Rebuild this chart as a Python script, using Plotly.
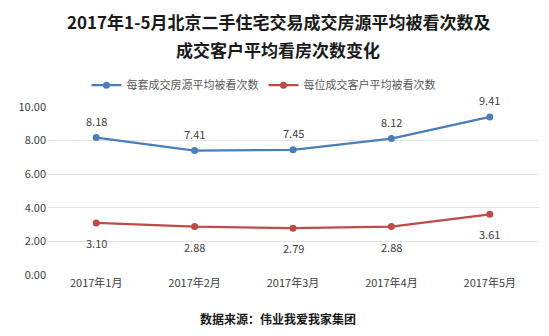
import plotly.graph_objects as go

months = ["2017年1月", "2017年2月", "2017年3月", "2017年4月", "2017年5月"]
listing_views = [8.18, 7.41, 7.45, 8.12, 9.41]
buyer_views = [3.10, 2.88, 2.79, 2.88, 3.61]
y_ticks = [0, 2, 4, 6, 8, 10]

blue = "#4A7EBB"
red = "#BE4B48"
font_family = "Noto Sans CJK SC, Microsoft YaHei, sans-serif"

fig = go.Figure()
fig.add_trace(go.Scatter(
    x=months, y=listing_views, name="每套成交房源平均被看次数",
    mode="lines+markers",
    line=dict(color=blue, width=2.25),
    marker=dict(color=blue, size=7),
    cliponaxis=False,
))
fig.add_trace(go.Scatter(
    x=months, y=buyer_views, name="每位成交客户平均被看次数",
    mode="lines+markers",
    line=dict(color=red, width=2.25),
    marker=dict(color=red, size=7),
    cliponaxis=False,
))

# value labels: above the blue series, below the red series
labels = []
for m, v in zip(months, listing_views):
    labels.append(dict(x=m, y=v, xref="x", yref="y", text=f"{v:.2f}",
                       showarrow=False, yshift=17,
                       font=dict(size=11, color="#404040")))
for m, v in zip(months, buyer_views):
    labels.append(dict(x=m, y=v, xref="x", yref="y", text=f"{v:.2f}",
                       showarrow=False, yshift=-20,
                       font=dict(size=11, color="#404040")))

titles = [
    dict(text="<b>2017年1-5月北京二手住宅交易成交房源平均被看次数及</b>",
         xref="paper", yref="paper", x=0.47, y=1.506, xanchor="center",
         yanchor="middle", showarrow=False,
         font=dict(size=17, color="#1A1A1A")),
    dict(text="<b>成交客户平均看房次数变化</b>",
         xref="paper", yref="paper", x=0.47, y=1.34, xanchor="center",
         yanchor="middle", showarrow=False,
         font=dict(size=17, color="#1A1A1A")),
    dict(text="<b>数据来源：伟业我爱我家集团</b>",
         xref="paper", yref="paper", x=0.47, y=-0.26, xanchor="center",
         yanchor="middle", showarrow=False,
         font=dict(size=12, color="#1A1A1A")),
]

fig.update_layout(
    width=549, height=336,
    margin=dict(l=47, r=10, t=107, b=61),
    paper_bgcolor="white", plot_bgcolor="white",
    font=dict(family=font_family, size=11, color="#595959"),
    showlegend=True,
    legend=dict(
        orientation="h", x=0.44, xanchor="center", y=1.13, yanchor="middle",
        font=dict(size=11, color="#595959"),
    ),
    xaxis=dict(
        type="category", range=[-0.5, 4.5], showgrid=False, zeroline=False,
        showline=False, ticks="", tickfont=dict(size=11, color="#404040"),
    ),
    yaxis=dict(
        range=[0, 10], tickvals=y_ticks, ticktext=[f"{v:.2f}" for v in y_ticks],
        showgrid=True, gridcolor="#E3E3E3", gridwidth=1, zeroline=False,
        showline=False, tickfont=dict(size=11, color="#404040"),
    ),
    annotations=titles + labels,
)

fig.write_html("out.html")
